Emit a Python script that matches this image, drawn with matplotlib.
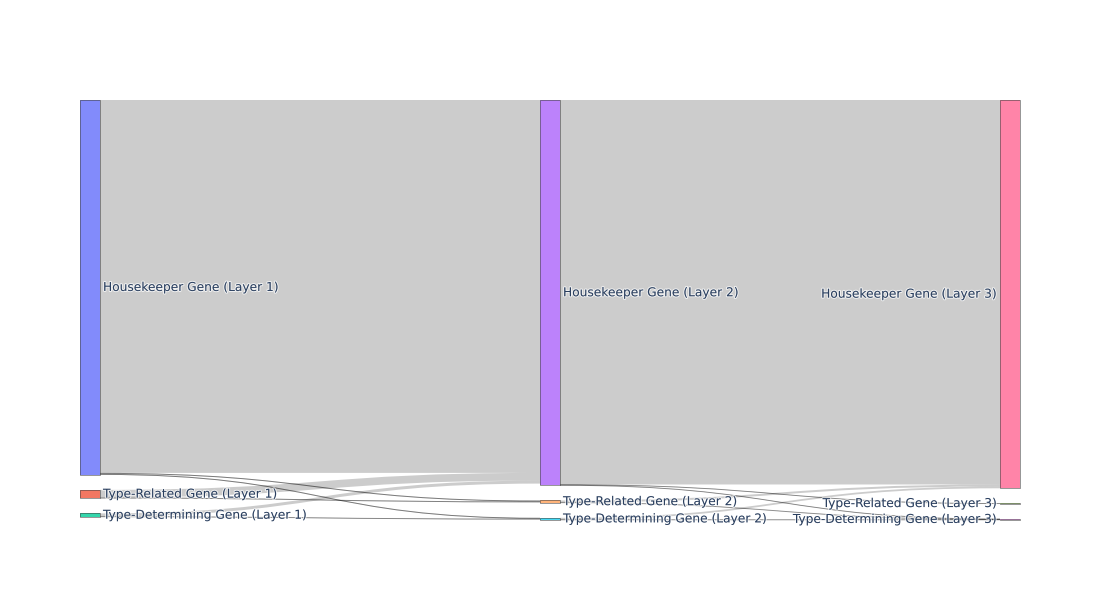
import numpy as np
import matplotlib.pyplot as plt
from matplotlib.path import Path
from matplotlib.patches import PathPatch, Rectangle
import matplotlib.patheffects as pe

# nodes
labels = [
    'Housekeeper Gene (Layer 1)', 'Type-Related Gene (Layer 1)', 'Type-Determining Gene (Layer 1)',
    'Housekeeper Gene (Layer 2)', 'Type-Related Gene (Layer 2)', 'Type-Determining Gene (Layer 2)',
    'Housekeeper Gene (Layer 3)', 'Type-Related Gene (Layer 3)', 'Type-Determining Gene (Layer 3)',
]
node_layer = [0, 0, 0, 1, 1, 1, 2, 2, 2]
node_colors = ['#636efa', '#EF553B', '#00cc96', '#ab63fa', '#FFA15A',
               '#19d3f3', '#FF6692', '#B6E880', '#FF97FF']

# links (gene counts)
sources = [0, 0, 0, 1, 1, 2, 2, 3, 3, 3, 4, 4, 5, 5]
targets = [3, 4, 5, 3, 4, 3, 5, 6, 7, 8, 6, 8, 6, 8]
values = [3727, 10, 10, 77, 8, 30, 6, 3843, 5, 5, 20, 3, 18, 4]

# plotly-like geometry (pixels)
W, H = 1100, 600
left, right, top, bottom = 80, 80, 100, 80
node_w = 20
pad = 15

n = len(labels)
inflow = np.zeros(n)
outflow = np.zeros(n)
for s, t, v in zip(sources, targets, values):
    outflow[s] += v
    inflow[t] += v
node_val = np.maximum(inflow, outflow)

n_layers = max(node_layer) + 1
plot_h = H - top - bottom
ky = min((plot_h - pad * (node_layer.count(k) - 1)) / node_val[[i for i in range(n) if node_layer[i] == k]].sum()
         for k in range(n_layers))

x0s = [left + node_layer[i] * (W - left - right - node_w) / (n_layers - 1) for i in range(n)]
y0s = np.zeros(n)
y1s = np.zeros(n)
for k in range(n_layers):
    y = top
    for i in range(n):
        if node_layer[i] == k:
            y0s[i] = y
            y1s[i] = y + node_val[i] * ky
            y = y1s[i] + pad

fig = plt.figure(figsize=(11, 6), dpi=100)
ax = fig.add_axes([0, 0, 1, 1])
ax.set_xlim(0, W)
ax.set_ylim(H, 0)
ax.axis('off')

# link stacking offsets
src_off = y0s.copy()
tgt_off = y0s.copy()
order = sorted(range(len(values)), key=lambda j: (sources[j], y0s[targets[j]]))
src_pos = {}
for j in order:
    w = values[j] * ky
    src_pos[j] = (src_off[sources[j]], src_off[sources[j]] + w)
    src_off[sources[j]] += w
order = sorted(range(len(values)), key=lambda j: (targets[j], y0s[sources[j]]))
tgt_pos = {}
for j in order:
    w = values[j] * ky
    tgt_pos[j] = (tgt_off[targets[j]], tgt_off[targets[j]] + w)
    tgt_off[targets[j]] += w

for j in range(len(values)):
    xa = x0s[sources[j]] + node_w
    xb = x0s[targets[j]]
    xm = (xa + xb) / 2
    (ya0, ya1), (yb0, yb1) = src_pos[j], tgt_pos[j]
    verts = [(xa, ya0), (xm, ya0), (xm, yb0), (xb, yb0),
             (xb, yb1), (xm, yb1), (xm, ya1), (xa, ya1), (xa, ya0)]
    codes = [Path.MOVETO, Path.CURVE4, Path.CURVE4, Path.CURVE4,
             Path.LINETO, Path.CURVE4, Path.CURVE4, Path.CURVE4, Path.CLOSEPOLY]
    ax.add_patch(PathPatch(Path(verts, codes), facecolor=(0, 0, 0, 0.2), edgecolor='none', zorder=1))
    if values[j] * ky < 1.2:
        ya, yb = (ya0 + ya1) / 2, (yb0 + yb1) / 2
        p = Path([(xa, ya), (xm, ya), (xm, yb), (xb, yb)],
                 [Path.MOVETO, Path.CURVE4, Path.CURVE4, Path.CURVE4])
        ax.add_patch(PathPatch(p, facecolor='none', edgecolor=(0, 0, 0, 0.4), lw=0.7, zorder=1))

for i in range(n):
    h = max(y1s[i] - y0s[i], 0.3)
    ax.add_patch(Rectangle((x0s[i], y0s[i]), node_w, h,
                           facecolor=node_colors[i], alpha=0.8, edgecolor='none', zorder=2))
    ax.add_patch(Rectangle((x0s[i], y0s[i]), node_w, h,
                           facecolor='none', edgecolor='#444444', lw=0.5, alpha=0.8, zorder=3))
    yc = (y0s[i] + y1s[i]) / 2
    if node_layer[i] == n_layers - 1:
        tx, ha = x0s[i] - 3, 'right'
    else:
        tx, ha = x0s[i] + node_w + 3, 'left'
    ax.text(tx, yc, labels[i], ha=ha, va='center', fontsize=8.8, color='#2a3f5f',
            family='DejaVu Sans', zorder=4,
            path_effects=[pe.withStroke(linewidth=1.5, foreground=(1, 1, 1, 0.7))])

fig.savefig('out.png', dpi=100, facecolor='white')
